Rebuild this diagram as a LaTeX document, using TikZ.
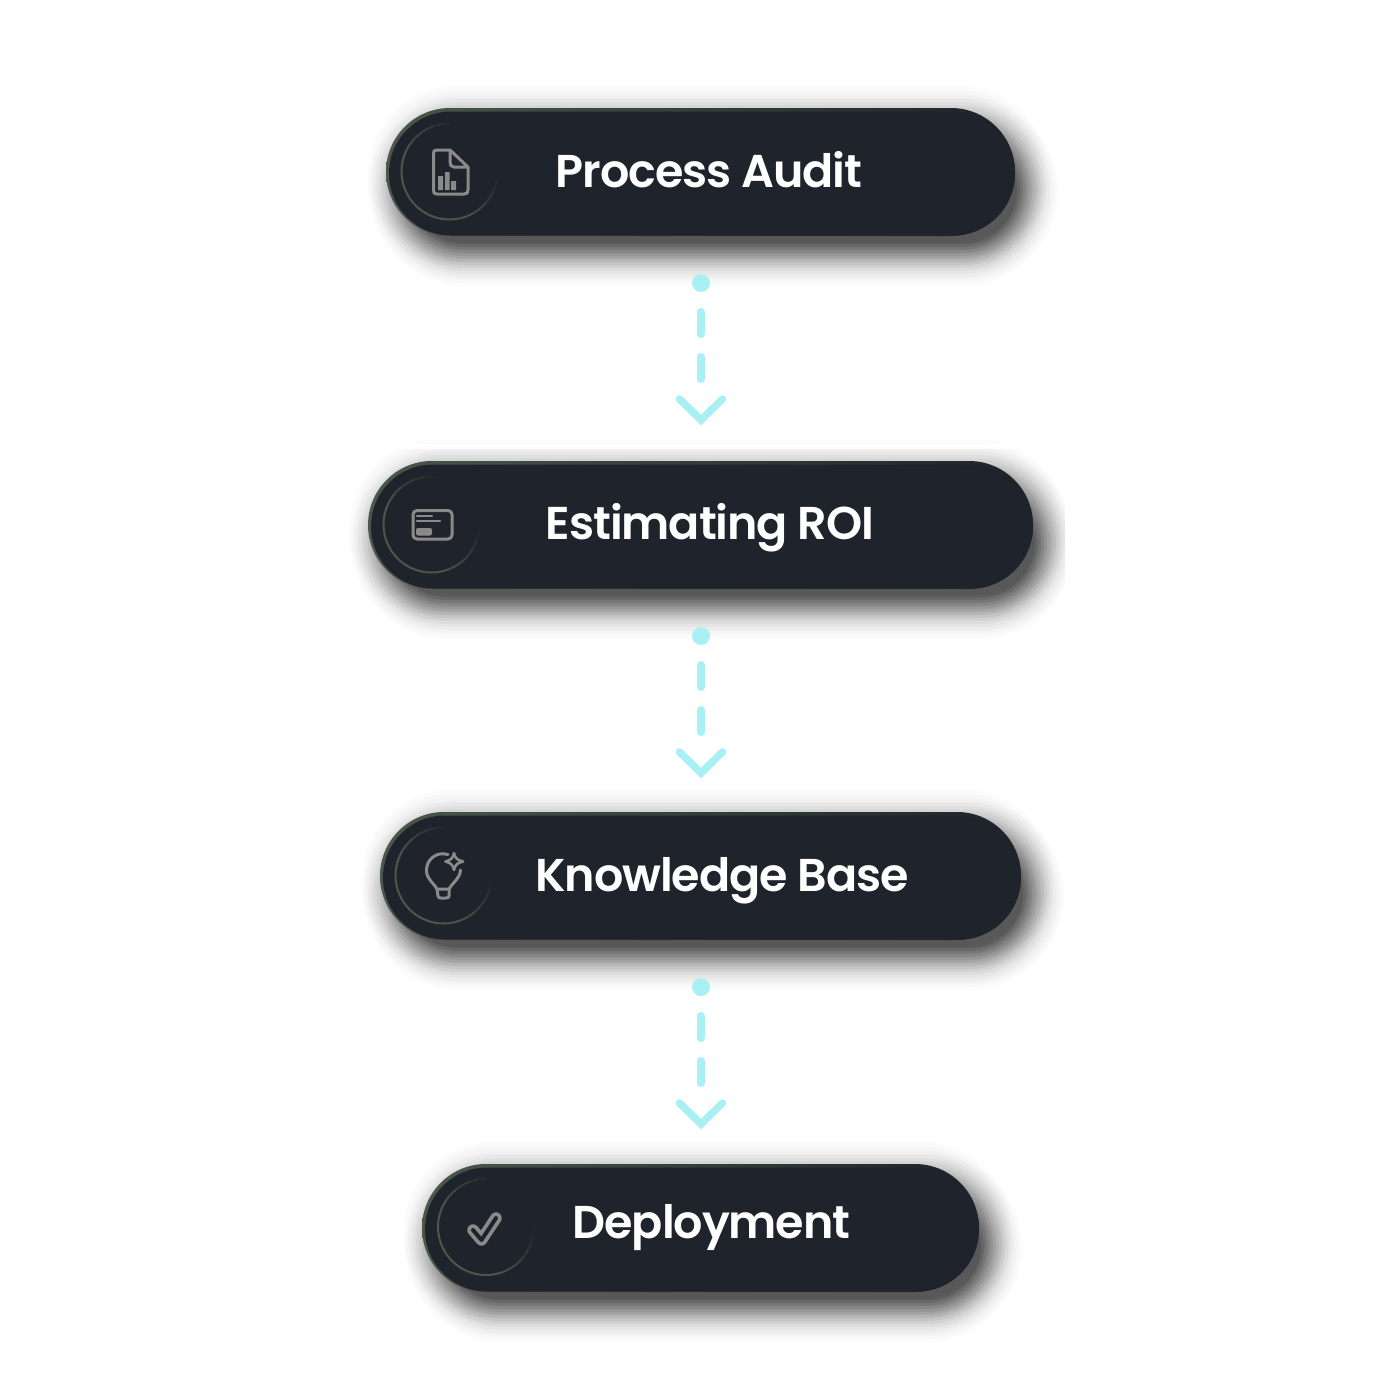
\documentclass[tikz,border=0pt]{standalone}
\usepackage{fontspec}
\setmainfont{Poppins}[UprightFont=* SemiBold,LetterSpace=-2.3]
\usetikzlibrary{shapes.misc,calc}
\definecolor{pilldark}{HTML}{1F232B}
\definecolor{pillgreen}{HTML}{4A574A}
\definecolor{flowcyan}{HTML}{A9F0F4}
\definecolor{icongray}{HTML}{8A8A8A}
\tikzset{
  x=1pt,y=-1pt,
  pillbase/.style={rounded rectangle,rounded rectangle arc length=180,inner sep=0pt,minimum height=128pt,draw=none,left color=pillgreen,right color=pilldark,shading angle=90},
  pillface/.style={rounded rectangle,rounded rectangle arc length=180,inner sep=0pt,minimum height=124pt,draw=none,fill=pilldark},
  title/.style={text=white,font=\fontsize{46}{50}\selectfont,inner sep=0pt,anchor=base},
  flowdot/.style={circle,fill=flowcyan,minimum size=18pt,inner sep=0pt,draw=none},
  flowdash/.style={draw=flowcyan,line width=8pt,line cap=round,dash pattern=on 22pt off 23pt},
  flowchev/.style={draw=flowcyan,line width=7.5pt,line cap=round,line join=miter},
  icon/.style={draw=icongray,line width=3pt,line join=round,line cap=round},
  iconfill/.style={fill=icongray,draw=none},
}
% shadow: l t r b
\newcommand{\softshadow}[4]{%
  \foreach \d/\o in {24/.016,20/.016,16/.016,12/.016,8/.016,4/.016,0/.016}{%
    \pgfmathsetmacro{\rr}{64+\d}
    \fill[black,fill opacity=\o,rounded corners=\rr pt] (#1+6-\d,#2+2-\d) rectangle (#3+8+\d,#4+6+\d);
  }%
  \foreach \d/\o in {32/.012,29/.014,26/.018,23/.022,20/.028,17/.034,14/.042,11/.05,8/.06,5/.07,2/.08,-1/.09,-4/.1,-7/.11,-10/.12}{%
    \pgfmathsetmacro{\rr}{64+\d}
    \fill[black,fill opacity=\o,rounded corners=\rr pt] (#1+14-\d,#2+20-\d) rectangle (#3+12+\d,#4+18+\d);
  }%
}
% ring: x y
\newcommand{\glowring}[2]{%
  \foreach \a in {-110,-100,...,-10,0,10,...,240}{%
    \pgfmathsetmacro{\m}{max(0,min(100,100*(0.62+0.8*cos(\a-135))))}
    \pgfmathsetmacro{\e}{\a+11}
    \draw[line width=2pt,color=pillgreen!\m!pilldark] ($(#1,#2)+(\a:48pt and -48pt)$) arc[start angle=-\a,end angle=-\e,radius=48pt];
  }%
}
\begin{document}
\begin{tikzpicture}
\useasboundingbox (0,0) rectangle (1400,1400);
\fill[white] (0,0) rectangle (1400,1400);

% shadows
\begin{scope}\clip (330,70) rectangle (1075,300); \softshadow{386}{108}{1015}{236}\end{scope}
\begin{scope}\clip (340,440) rectangle (1065,650); \softshadow{368}{461}{1033}{589}\end{scope}
\fill[white] (340,444) rectangle (1065,449);
\begin{scope}\clip (340,790) rectangle (1065,1000); \softshadow{380}{812}{1021}{940}\end{scope}
\begin{scope}\clip (390,1140) rectangle (1030,1350); \softshadow{422}{1164}{979}{1292}\end{scope}

% pills
\node[pillbase,minimum width=629pt] (p1) at (700.5,172) {};
\node[pillface,minimum width=626pt] (f1) at (702,173.5) {};
\node[pillbase,minimum width=665pt] (p2) at (700.5,525) {};
\node[pillface,minimum width=662pt] (f2) at (702,526.5) {};
\node[pillbase,minimum width=641pt] (p3) at (700.5,876) {};
\node[pillface,minimum width=638pt] (f3) at (702,877.5) {};
\node[pillbase,minimum width=557pt] (p4) at (700.5,1228) {};
\node[pillface,minimum width=554pt] (f4) at (702,1229.5) {};

% rings
\glowring{449.5}{171.5}
\glowring{431.5}{524.5}
\glowring{443.5}{875.5}
\glowring{486}{1227}

% titles
\node[title] (t1) at (709,187) {Process Audit};
\node[title] (t2) at (710,539.5) {Estimating ROI};
\node[title] (t3) at (722,891.5) {Knowledge Base};
\node[title] (t4) at (711.5,1238) {Deployment};

% icon 1: document
\draw[icon] (450,150) -- (437,150) .. controls (434,150) and (433.5,151) .. (433.5,154) -- (433.5,190) .. controls (433.5,193) and (434,194) .. (437,194) -- (464,194) .. controls (467,194) and (468,193) .. (468,190) -- (468,167) -- (450,150) -- (450,162) .. controls (450,165) and (451,167) .. (454,167) -- (468,167);
\fill[iconfill] (438,176) rectangle (443,190) (445,172) rectangle (449.5,190) (451,181) rectangle (456,190);

% icon 2: card
\draw[icon,rounded corners=4pt] (413,510.5) rectangle (452,539);
\draw[icon,line width=2.4pt] (417,516) -- (432,516) (417,521) -- (440,521);
\fill[iconfill,rounded corners=2pt] (416,528) rectangle (432,535.5);

% icon 3: bulb
\draw[icon] (448,854.5) .. controls (436,851) and (426,860) .. (426.5,871) .. controls (427,880) and (434,883) .. (437,889) -- (449,889) .. controls (452,883) and (460,879) .. (460.5,870);
\draw[icon] (437,889) -- (438,896) .. controls (438,897.5) and (439,898) .. (441,898) -- (446,898) .. controls (448,898) and (449,897.5) .. (449,896) -- (449,889);
\draw[icon,line width=2.6pt] (454,853) .. controls (455,858) and (457,860) .. (463,861.5) .. controls (457,863) and (455,865) .. (454,870) .. controls (453,865) and (451,863) .. (445.5,861.5) .. controls (451,860) and (453,858) .. cycle;

% icon 4: check
\draw[icongray,line width=11.5pt,line cap=round,line join=round] (473,1230) -- (481.5,1240) -- (496,1218);
\draw[pilldark,line width=4pt,line cap=round,line join=round] (473,1230) -- (481.5,1240) -- (496,1218);

% connectors
\node[flowdot] (d1) at (701,283) {};
\node[flowdot] (d2) at (701,636) {};
\node[flowdot] (d3) at (701,987) {};
\foreach \n in {1,2,3}{
  \coordinate (s\n) at ($(d\n)+(0,29)$);
  \coordinate (e\n) at ($(d\n)+(0,96)$);
  \coordinate (v\n) at ($(d\n)+(0,137)$);
  \coordinate (cl\n) at ($(d\n)+(-21.5,116)$);
  \coordinate (cr\n) at ($(d\n)+(21.5,116)$);
  \draw[flowdash] (s\n) -- (e\n);
  \draw[flowchev] (cl\n) -- (v\n) -- (cr\n);
}
\end{tikzpicture}
\end{document}
